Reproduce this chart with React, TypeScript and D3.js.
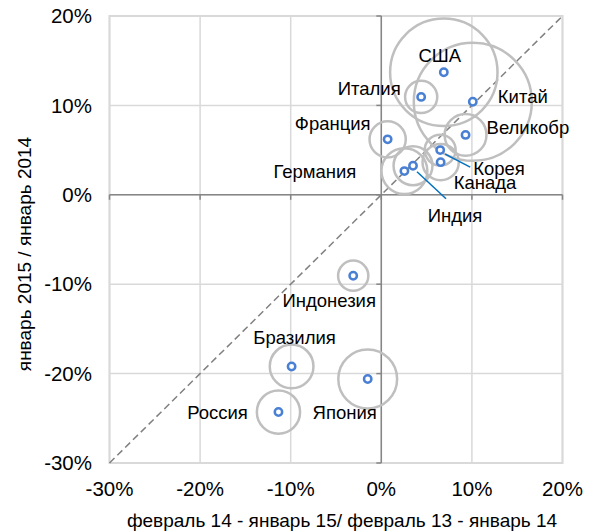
import React from "react";
import * as d3 from "d3";

const countries = ["США", "Китай", "Италия", "Франция", "Великобр", "Корея", "Канада", "Германия", "Индия", "Индонезия", "Бразилия", "Россия", "Япония"];
const xValues = [6.9, 10.1, 4.4, 0.7, 9.3, 6.5, 6.55, 2.55, 3.5, -3.1, -9.9, -11.35, -1.5];
const yValues = [13.7, 10.4, 10.95, 6.2, 6.7, 5.0, 3.65, 2.65, 3.25, -9.05, -19.2, -24.3, -20.6];
const bubbleSizes = [29, 35, 2.6, 3.3, 4.4, 2.4, 3.3, 5.3, 3.8, 2.3, 4.8, 4.7, 8.7];
const labelDx = [-4, 50, -52, -17, 21, 33, 13, -48, 42, -24, 3, -61, -23];
const labelDy = [-17, -5, -8, -16, -7, 18, 20, 0, 50, 25, -29, 0, 34];
const labelAnchor = ["middle", "middle", "middle", "end", "start", "start", "start", "end", "middle", "middle", "middle", "middle", "middle"];
const leaderCountries = ["Корея", "Индия"];
const ticks = [-30, -20, -10, 0, 10, 20];
const xTitle = "февраль 14 - январь 15/ февраль 13 - январь 14";
const yTitle = "январь 2015 / январь 2014";

export default function App() {
  const W = 592, H = 531;
  const x = d3.scaleLinear().domain([-30, 20]).range([109.5, 562.5]);
  const y = d3.scaleLinear().domain([-30, 20]).range([463, 16]);
  const r = d3.scaleSqrt().domain([0, 35]).range([0, 59]);
  const font = "Liberation Sans, Arial, sans-serif";
  const order = d3.range(countries.length).sort((a, b) => bubbleSizes[b] - bubbleSizes[a]);
  return (
    <svg width={W} height={H} style={{ position: "absolute", left: 0, top: 0 }} fontFamily={font}>
      <rect x={0} y={0} width={W} height={H} fill="#fff" />
      {ticks.map((t) => (
        <g key={"g" + t}>
          <line x1={x(t)} x2={x(t)} y1={y(-30)} y2={y(20)} stroke="#d9d9d9" strokeWidth={1.5} />
          <line x1={x(-30)} x2={x(20)} y1={y(t)} y2={y(t)} stroke="#d9d9d9" strokeWidth={1.5} />
        </g>
      ))}
      <rect x={x(-30)} y={y(20)} width={x(20) - x(-30)} height={y(-30) - y(20)} fill="none" stroke="#d9d9d9" strokeWidth={2} />
      <line x1={x(-30)} y1={y(-30)} x2={x(20)} y2={y(20)} stroke="#808080" strokeWidth={1.5} strokeDasharray="7,4" />
      <line x1={x(0)} x2={x(0)} y1={y(-30)} y2={y(20)} stroke="#868686" strokeWidth={1.5} />
      <line x1={x(-30)} x2={x(20)} y1={y(0)} y2={y(0)} stroke="#868686" strokeWidth={1.5} />
      {ticks.map((t) => (
        <g key={"t" + t}>
          <line x1={x(0) - 5} x2={x(0)} y1={y(t)} y2={y(t)} stroke="#868686" strokeWidth={1.5} />
          <line x1={x(t)} x2={x(t)} y1={y(0)} y2={y(0) + 5} stroke="#868686" strokeWidth={1.5} />
          <text x={92} y={y(t)} dy="0.35em" textAnchor="end" fontSize={20.5} fill="#000">{t + "%"}</text>
          <text x={x(t)} y={489} dy="0.35em" textAnchor="middle" fontSize={20.5} fill="#000">{t + "%"}</text>
        </g>
      ))}
      {order.map((i) => (
        <circle key={"b" + i} cx={x(xValues[i])} cy={y(yValues[i])} r={r(bubbleSizes[i])} fill="none" stroke="#bfbfbf" strokeWidth={2.5} />
      ))}
      {countries.map((c, i) => {
        const px = x(xValues[i]), py = y(yValues[i]);
        const lx = px + labelDx[i], ly = py + labelDy[i];
        return (
          <g key={"l" + i}>
            {leaderCountries.includes(c) && (
              <line x1={px + (c === "Корея" ? 5 : 4)} y1={py + (c === "Корея" ? 4 : 6)} x2={c === "Корея" ? lx - 3 : lx - 9} y2={c === "Корея" ? ly - 1 : ly - 17} stroke="#0070c0" strokeWidth={1.5} />
            )}
            <text x={lx} y={ly} dy="0.35em" textAnchor={labelAnchor[i] as any} fontSize={18.5} fill="#000">{c}</text>
          </g>
        );
      })}
      {countries.map((c, i) => (
        <circle key={"m" + i} cx={x(xValues[i])} cy={y(yValues[i])} r={3.7} fill="#fff" stroke="#4a80d4" strokeWidth={2.5} />
      ))}
      <text x={342} y={520} dy="0.35em" textAnchor="middle" fontSize={19} fill="#000">{xTitle}</text>
      <text transform={`translate(24,254) rotate(-90)`} dy="0.35em" textAnchor="middle" fontSize={19} fill="#000">{yTitle}</text>
    </svg>
  );
}
